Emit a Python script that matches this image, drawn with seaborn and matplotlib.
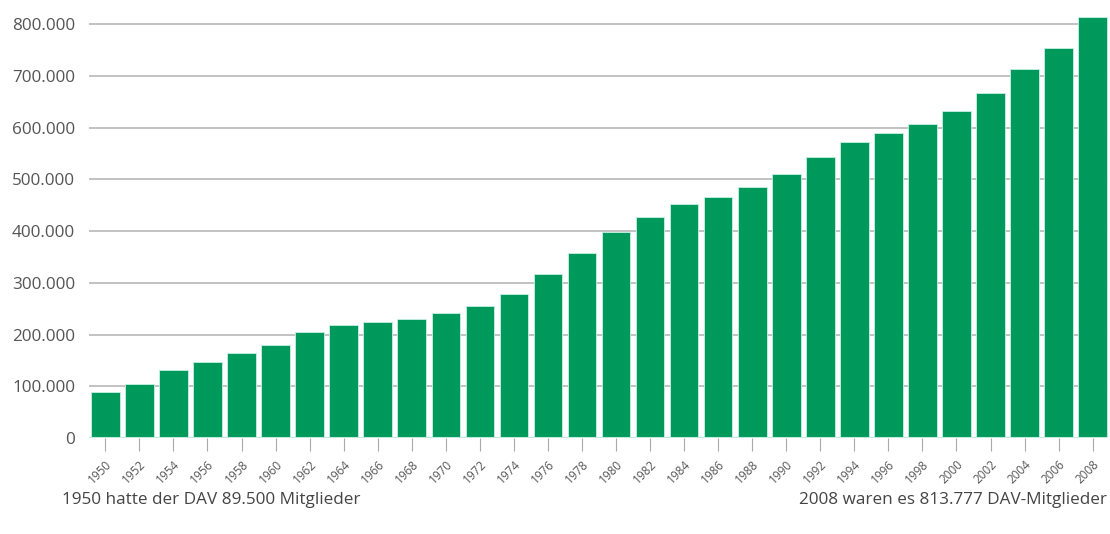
import matplotlib
matplotlib.use("Agg")
import matplotlib.pyplot as plt
import seaborn as sns
import pandas as pd

years = [str(y) for y in range(1950, 2009, 2)]
members = [89500, 104000, 130500, 146000, 163500, 179000, 204000, 218500, 225000, 230500,
           242500, 254500, 278000, 316500, 357000, 397500, 427000, 451500, 466000, 486000,
           510000, 542500, 572000, 589000, 606000, 632000, 666500, 712500, 753500, 813777]
y_ticks = [0, 100000, 200000, 300000, 400000, 500000, 600000, 700000, 800000]
y_labels = ["0", "100.000", "200.000", "300.000", "400.000", "500.000", "600.000", "700.000", "800.000"]
note_left = "1950 hatte der DAV 89.500 Mitglieder"
note_right = "2008 waren es 813.777 DAV-Mitglieder"

df = pd.DataFrame({"Jahr": years, "Mitglieder": members})

sns.set_style("white")
plt.rcParams["font.family"] = ["Open Sans", "DejaVu Sans"]

W, H = 1110, 534
fig = plt.figure(figsize=(W / 100, H / 100), dpi=100)
ax = fig.add_axes([89 / W, (H - 438) / H, (1108 - 89) / W, (438 - 8.5) / H])

sns.barplot(data=df, x="Jahr", y="Mitglieder", color="#00995c", saturation=1,
            width=0.84, edgecolor="#c8efe4", linewidth=0.6, ax=ax, zorder=3)

ax.set_ylim(0, 830000)
ax.set_xlim(-0.48, 29.45)
ax.set_yticks(y_ticks)
ax.set_yticklabels(y_labels)
ax.set_xlabel("")
ax.set_ylabel("")

for v in y_ticks[1:]:
    ax.axhline(v, color="#bdbdbd", lw=1.3, zorder=1)
ax.axhline(0, color="#bfe9de", lw=1.5, zorder=4)

for s in ax.spines.values():
    s.set_visible(False)

ax.tick_params(axis="y", left=False, length=0, pad=10, labelsize=12.3, labelcolor="#555555")
ax.tick_params(axis="x", bottom=True, direction="out", length=9, width=0.8, color="#aaaaaa",
               pad=5, labelsize=8.5, labelcolor="#555555")
for lbl in ax.get_xticklabels():
    lbl.set_rotation(45)
    lbl.set_ha("right")
    lbl.set_rotation_mode("anchor")
    lbl.set_va("top")

fig.text(62 / W, 1 - 500 / H, note_left, fontsize=12.3, color="#444444", ha="left", va="center")
fig.text(1107 / W, 1 - 500 / H, note_right, fontsize=12.3, color="#444444", ha="right", va="center")

fig.savefig("out.png", dpi=100, facecolor="white")
